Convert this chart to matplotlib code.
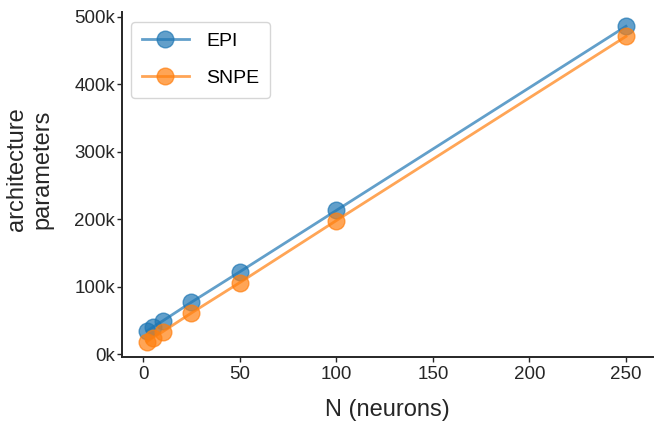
import matplotlib
matplotlib.use("Agg")
import matplotlib.pyplot as plt
from matplotlib.ticker import FuncFormatter

plt.rcParams['font.family'] = ['Liberation Sans', 'DejaVu Sans']

N = [2, 5, 10, 25, 50, 100, 250]
epi_params = [34000, 40000, 49000, 77000, 122000, 213000, 486000]
snpe_params = [18500, 24500, 33000, 61000, 106000, 198000, 471000]

fig = plt.figure(figsize=(6.68, 4.33), dpi=100)
ax = fig.add_axes([0.182, 0.176, 0.795, 0.796])

ax.plot(N, epi_params, 'o-', color='#1f77b4', alpha=0.7, markersize=12, lw=2, label='EPI')
ax.plot(N, snpe_params, 'o-', color='#ff7f0e', alpha=0.7, markersize=12, lw=2, label='SNPE')

ax.set_xticks([0, 50, 100, 150, 200, 250])
ax.set_yticks([0, 100000, 200000, 300000, 400000, 500000])
ax.yaxis.set_major_formatter(FuncFormatter(lambda v, p: f"{int(round(v/1000))}k"))
ax.set_xlim(-11.2, 263.8)
ax.set_ylim(-4000, 507000)

ax.tick_params(labelsize=13.5, length=3.5, width=1.0, colors='#262626')
ax.tick_params(axis='y', pad=1.2)
ax.tick_params(axis='x', pad=3)
for s in ['top', 'right']:
    ax.spines[s].set_visible(False)
for s in ['left', 'bottom']:
    ax.spines[s].set_linewidth(1.4)
    ax.spines[s].set_color('#262626')

ax.set_xlabel('N (neurons)', fontsize=17, labelpad=12, color='#262626')
ax.set_ylabel('architecture\nparameters', fontsize=17, color='#262626')
ax.yaxis.set_label_coords(-0.1275, 0.545)

leg = ax.legend(fontsize=14, loc='upper left', frameon=True, borderpad=0.55,
                handlelength=2.4, handletextpad=0.9, labelspacing=1.0,
                borderaxespad=0.5)
leg.get_frame().set_edgecolor('#cccccc')

fig.savefig('out.png', dpi=100)
